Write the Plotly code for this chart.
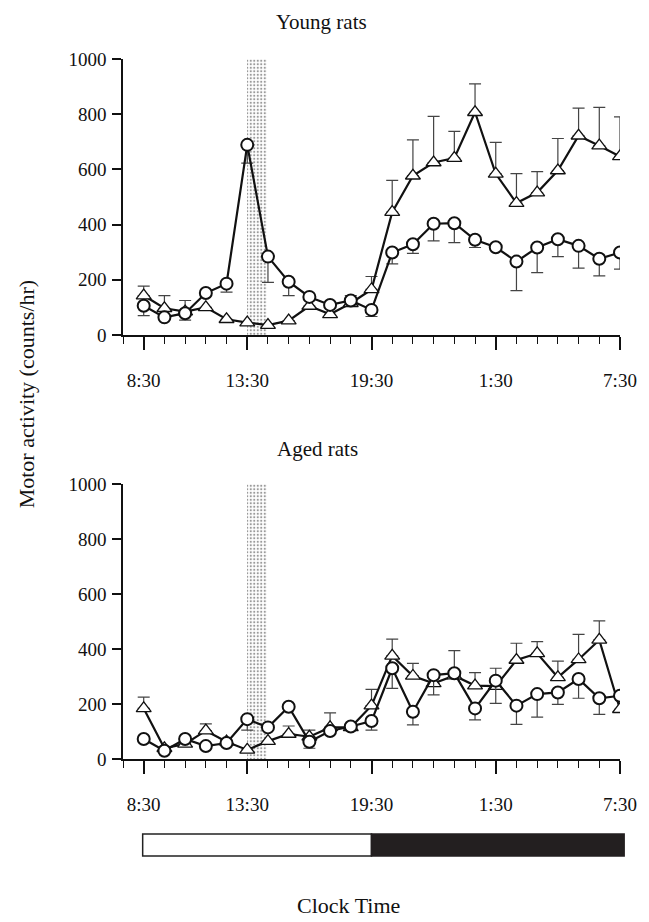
import plotly.graph_objects as go
from plotly.subplots import make_subplots

# ---- data ----
clock_labels = ["8:30", "13:30", "19:30", "1:30", "7:30"]
clock_label_idx = [0, 5, 11, 17, 23]
hours = list(range(24))  # 8:30 ... 7:30 hourly

young_tri = [143, 97, 85, 100, 57, 45, 36, 52, 105, 75, 115, 165, 445, 577, 625, 641, 807, 584, 478, 516, 596, 722, 686, 647]
young_tri_err = [34, 46, 40, 0, 0, 0, 0, 0, 0, 0, 28, 47, 115, 130, 167, 97, 103, 114, 107, 76, 116, 100, 139, 143]
young_circ = [106, 64, 79, 152, 186, 689, 284, 193, 138, 109, 125, 91, 299, 329, 403, 405, 345, 318, 266, 317, 347, 323, 276, 299]
young_circ_err = [36, 0, 25, 0, 31, 66, 93, 50, 0, 0, 0, 24, 41, 33, 62, 70, 28, 0, 105, 91, 63, 81, 62, 60]

aged_tri = [184, 39, 55, 103, 63, 33, 65, 91, 81, 115, 115, 194, 375, 302, 275, 303, 267, 265, 360, 384, 297, 362, 433, 181]
aged_tri_err = [41, 0, 0, 25, 0, 0, 0, 29, 24, 53, 0, 59, 61, 46, 0, 91, 47, 65, 61, 43, 59, 91, 69, 0]
aged_circ = [73, 30, 73, 47, 58, 145, 115, 190, 63, 102, 118, 138, 330, 172, 305, 312, 184, 285, 194, 236, 242, 291, 221, 230]
aged_circ_err = [0, 0, 0, 0, 0, 40, 0, 0, 24, 0, 0, 33, 73, 48, 72, 0, 42, 83, 68, 84, 43, 70, 59, 0]

shade_start, shade_end = 5, 5.95     # treatment window (hour index)
shade_top = 1000
lights_off_idx = 11                   # 19:30
x_min, x_max = -1, 23

FONT = "Liberation Serif, Times New Roman, serif"
W, H = 649, 922
ML, MR, MT, MB = 123, 22, 59, 922 - 759
PW, PH = W - ML - MR, H - MT - MB

def yp(py):  # page y -> paper
    return (H - MB - py) / PH
def xp(px):  # page x -> paper
    return (px - ML) / PW

fig = make_subplots(rows=2, cols=1, vertical_spacing=0.2)

def add_panel(row, tri, tri_err, circ, circ_err):
    fig.add_trace(go.Bar(
        x=[(shade_start + shade_end) / 2], y=[shade_top], width=[shade_end - shade_start],
        marker=dict(color="white", line=dict(width=0),
                    pattern=dict(shape=".", fgcolor="#333", bgcolor="white", size=3.5, solidity=0.3)),
        showlegend=False, hoverinfo="skip"), row=row, col=1)
    fig.add_trace(go.Scatter(
        x=hours, y=tri, mode="lines+markers",
        line=dict(color="#111", width=2.2),
        marker=dict(symbol="triangle-up", size=13, color="white", line=dict(color="#111", width=1.3)),
        error_y=dict(type="data", symmetric=False, array=tri_err, arrayminus=[0] * len(tri),
                     color="#444", thickness=1.2, width=6),
        showlegend=False), row=row, col=1)
    fig.add_trace(go.Scatter(
        x=hours, y=circ, mode="lines+markers",
        line=dict(color="#111", width=2.2),
        marker=dict(symbol="circle", size=12, color="white", line=dict(color="#111", width=2)),
        error_y=dict(type="data", symmetric=False, array=[0] * len(circ), arrayminus=circ_err,
                     color="#444", thickness=1.2, width=6),
        showlegend=False), row=row, col=1)

add_panel(1, young_tri, young_tri_err, young_circ, young_circ_err)
add_panel(2, aged_tri, aged_tri_err, aged_circ, aged_circ_err)

top_dom = [yp(335), 1.0]
bot_dom = [0.0, yp(484)]

axis_common = dict(
    range=[x_min, x_max], tickmode="array", tickvals=clock_label_idx, ticktext=clock_labels,
    ticks="outside", ticklen=13, tickwidth=1.5, tickcolor="#111",
    minor=dict(tick0=x_min, dtick=1, ticks="outside", ticklen=7, tickwidth=1.3, tickcolor="#111"),
    showline=True, linecolor="#111", linewidth=1.5, showgrid=False, zeroline=False,
    ticklabelstandoff=14, tickfont=dict(family=FONT, size=19, color="#111"),
)
yaxis_common = dict(
    range=[0, 1000], tickvals=[0, 200, 400, 600, 800, 1000],
    ticks="outside", ticklen=9, tickwidth=1.5, tickcolor="#111",
    showline=True, linecolor="#111", linewidth=1.5, showgrid=False, zeroline=False,
    ticklabelstandoff=2, tickfont=dict(family=FONT, size=19, color="#111"),
)
fig.update_layout(
    xaxis=dict(**axis_common), xaxis2=dict(**axis_common),
    yaxis=dict(**yaxis_common, domain=top_dom), yaxis2=dict(**yaxis_common, domain=bot_dom),
)

# light/dark bar below the lower panel
def to_paper(xv):
    return (xv - x_min) / (x_max - x_min)

bar_left = to_paper(0 - 0.05)
bar_mid = to_paper(lights_off_idx)
bar_right = to_paper(x_max + 0.2)
fig.add_shape(type="rect", xref="paper", yref="paper", x0=bar_left, x1=bar_mid,
              y0=yp(856), y1=yp(834), fillcolor="white", line=dict(color="#222", width=1.5))
fig.add_shape(type="rect", xref="paper", yref="paper", x0=bar_mid, x1=bar_right,
              y0=yp(856), y1=yp(834), fillcolor="#231f20", line=dict(color="#231f20", width=1.5))

def text_ann(text, px, py, size, angle=0):
    return dict(text=text, x=xp(px), y=yp(py), xref="paper", yref="paper",
                xanchor="center", yanchor="middle", textangle=angle, showarrow=False,
                font=dict(family=FONT, size=size, color="#111"))

ann = [
    text_ann("Young rats", 324, 22, 21),
    text_ann("Aged rats", 320, 449, 21),
    text_ann("Clock Time", 352, 905, 22),
    text_ann("Motor activity (counts/hr)", 25, 394, 22, -90),
]

fig.update_layout(
    width=W, height=H, margin=dict(l=ML, r=MR, t=MT, b=MB),
    paper_bgcolor="white", plot_bgcolor="white", annotations=ann,
    bargap=0, showlegend=False,
)

fig.write_html("out.html", config={"displayModeBar": False},
               post_script="document.body.style.margin='0';document.body.style.overflow='hidden';")
